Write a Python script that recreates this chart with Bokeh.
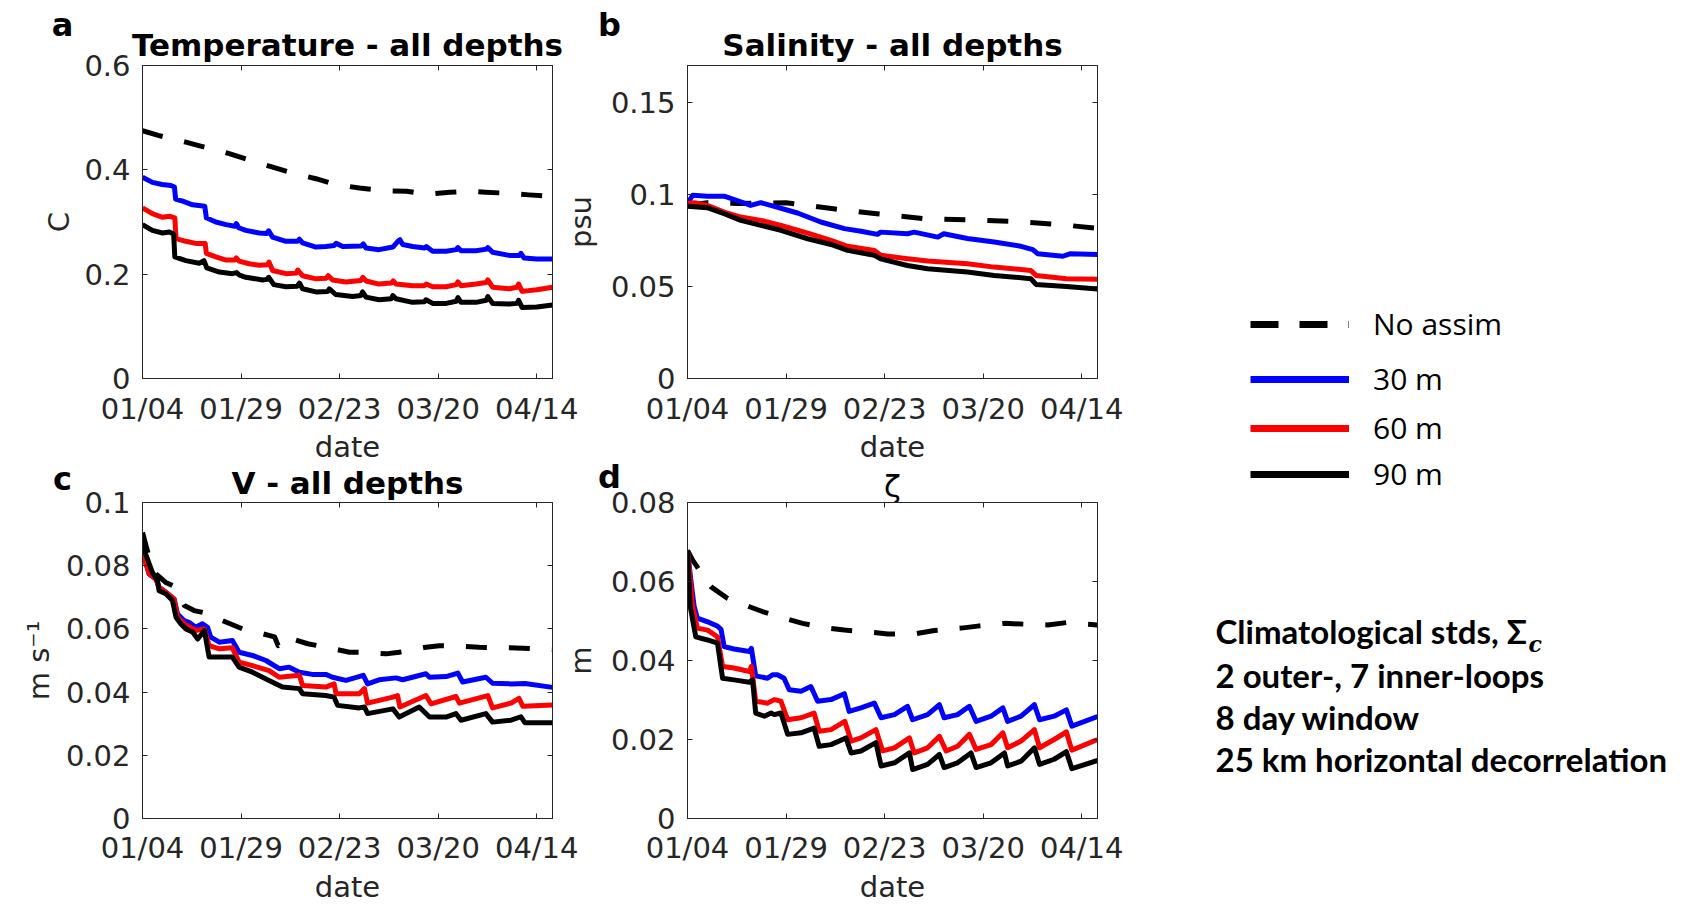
from bokeh.plotting import figure
from bokeh.models import Range1d, FixedTicker, LinearAxis, Label, Legend, LegendItem
from bokeh.layouts import row, column
from bokeh.embed import file_html
from bokeh.resources import INLINE

# ------------------------------------------------------------------ data
DATE_TICKS = [0, 25, 50, 75, 100]          # days after 01/04
DATE_LABELS = ["01/04", "01/29", "02/23", "03/20", "04/14"]
DAY_END = 104

SERIES_NAMES = ["No assim", "30 m", "60 m", "90 m"]

# (a) Temperature - all depths  [C]
TEMP_YTICKS = [0, 0.2, 0.4, 0.6]
TEMP_YLABELS = ["0", "0.2", "0.4", "0.6"]
temp_noassim = [(0, 0.475), (4, 0.466), (11, 0.453), (16, 0.443), (22, 0.431), (27, 0.419),
                (33, 0.405), (38, 0.394), (44, 0.383), (49, 0.372), (55, 0.365), (61, 0.360),
                (67, 0.359), (72, 0.353), (78, 0.357), (83, 0.359), (87, 0.357), (93, 0.355),
                (98, 0.352), (104, 0.349)]
temp_30m = [(0, 0.386), (2.5, 0.376), (5, 0.372), (7.2, 0.370), (8.1, 0.367), (8.4, 0.344),
            (10.2, 0.340), (12.7, 0.333), (15.8, 0.330), (16.2, 0.308), (18.6, 0.300), (21.2, 0.295),
            (23.4, 0.292), (23.8, 0.297), (24.4, 0.289), (26.2, 0.284), (29.6, 0.279), (31.5, 0.278),
            (32.0, 0.283), (33, 0.271), (36.4, 0.263), (39.3, 0.263), (39.8, 0.267), (40.6, 0.260),
            (44, 0.252), (46.5, 0.253), (48.6, 0.255), (49.1, 0.259), (50.8, 0.253), (55.5, 0.254),
            (56, 0.258), (56.7, 0.250), (60, 0.247), (63.5, 0.252), (64.9, 0.264), (65.3, 0.266),
            (66, 0.257), (68.5, 0.253), (71.6, 0.250), (72, 0.253), (73.6, 0.244), (77, 0.244),
            (79.6, 0.247), (80, 0.251), (80.8, 0.245), (84.6, 0.245), (87.3, 0.248), (87.6, 0.251),
            (88.8, 0.242), (93, 0.236), (95.6, 0.236), (96.0, 0.240), (96.8, 0.231), (100, 0.229),
            (104, 0.229)]
temp_60m = [(0, 0.327), (2.5, 0.316), (5.1, 0.309), (6.8, 0.311), (8.2, 0.308), (8.5, 0.268),
            (11, 0.263), (13.5, 0.259), (15.9, 0.259), (16.2, 0.240), (18.6, 0.233), (21.2, 0.227),
            (23.4, 0.227), (23.8, 0.231), (24.5, 0.225), (27, 0.220), (29.6, 0.217), (31.7, 0.218),
            (32.1, 0.223), (33, 0.207), (36.4, 0.201), (39.0, 0.202), (39.4, 0.208), (40.6, 0.197),
            (44, 0.191), (46.6, 0.192), (47.1, 0.197), (48.2, 0.189), (51.6, 0.185), (55.4, 0.188),
            (55.9, 0.194), (56.7, 0.187), (60, 0.181), (63.1, 0.183), (63.6, 0.187), (64.3, 0.181),
            (68.5, 0.178), (71.5, 0.178), (72, 0.181), (73.6, 0.176), (77, 0.176), (79.6, 0.180),
            (80, 0.185), (80.8, 0.178), (84.6, 0.181), (87.2, 0.184), (87.6, 0.189), (88.8, 0.175),
            (93, 0.172), (95.0, 0.175), (95.4, 0.181), (96.3, 0.167), (100, 0.170), (104, 0.175)]
temp_90m = [(0, 0.295), (2.5, 0.284), (5.1, 0.279), (6.8, 0.281), (7.9, 0.277), (8.2, 0.233),
            (11, 0.226), (14.4, 0.221), (15.6, 0.226), (16.3, 0.212), (19.5, 0.204), (22.8, 0.201),
            (23.9, 0.203), (24.6, 0.198), (26.2, 0.194), (30.5, 0.189), (31.6, 0.190), (32, 0.194),
            (33.3, 0.180), (36.4, 0.176), (39.3, 0.177), (39.8, 0.183), (40.6, 0.172), (44, 0.166),
            (47, 0.167), (47.4, 0.172), (49, 0.161), (53.3, 0.157), (55.4, 0.159), (55.8, 0.166),
            (56.7, 0.156), (60, 0.151), (63.1, 0.153), (63.5, 0.159), (64.3, 0.153), (68.5, 0.146),
            (71.5, 0.147), (71.9, 0.151), (73.6, 0.144), (77, 0.144), (79.6, 0.148), (80, 0.155),
            (80.8, 0.146), (84.6, 0.146), (87.2, 0.150), (87.6, 0.157), (88.8, 0.144), (93, 0.143),
            (95.0, 0.144), (95.4, 0.150), (96.3, 0.136), (100, 0.137), (104, 0.141)]

# (b) Salinity - all depths  [psu]
SALT_YTICKS = [0, 0.05, 0.1, 0.15]
SALT_YLABELS = ["0", "0.05", "0.1", "0.15"]
salt_noassim = [(0, 0.094), (5, 0.0955), (13, 0.095), (25, 0.0955), (37, 0.0922), (48, 0.0895),
                (60, 0.0868), (71, 0.0862), (82.5, 0.0853), (94, 0.0837), (104, 0.0816)]
salt_30m = [(0, 0.095), (1.3, 0.0995), (5, 0.099), (9.3, 0.099), (13.5, 0.096), (16, 0.094),
            (18.6, 0.0955), (22, 0.0935), (27.9, 0.0899), (33.8, 0.085), (39.8, 0.0814), (44, 0.080),
            (48.2, 0.0783), (49, 0.0795), (55.8, 0.0786), (57.5, 0.0795), (63.5, 0.0768), (65, 0.0786),
            (71, 0.076), (77.8, 0.0741), (84.6, 0.0718), (87.6, 0.070), (88.8, 0.0678), (95.2, 0.0664),
            (97, 0.0677), (104, 0.0673)]
salt_60m = [(0, 0.095), (1.7, 0.0955), (5, 0.094), (9.3, 0.0904), (13.5, 0.0877), (18.6, 0.0859),
            (23.7, 0.0832), (30.5, 0.079), (36.4, 0.075), (40.6, 0.0718), (47.4, 0.0696), (49, 0.0669),
            (55.8, 0.065), (60.9, 0.0638), (71, 0.0623), (77.8, 0.0605), (87.1, 0.0587), (88.4, 0.056),
            (96.1, 0.0542), (104, 0.0539)]
salt_90m = [(0, 0.0935), (5, 0.0928), (9.3, 0.0895), (13.5, 0.0859), (18.6, 0.0832), (23.7, 0.0805),
            (30.5, 0.0759), (36.4, 0.0728), (40.6, 0.0696), (47.4, 0.0669), (49, 0.065), (55.8, 0.0614),
            (60.9, 0.0596), (71, 0.0578), (77.8, 0.056), (87.1, 0.0542), (88.4, 0.0511), (96.1, 0.050),
            (104, 0.0486)]

# (c) V - all depths  [m s-1]
VEL_YTICKS = [0, 0.02, 0.04, 0.06, 0.08, 0.1]
VEL_YLABELS = ["0", "0.02", "0.04", "0.06", "0.08", "0.1"]
vel_noassim = [(0, 0.0905), (1.7, 0.0826), (3.4, 0.0774), (5.9, 0.0747), (7.6, 0.0737), (10.6, 0.0674),
               (13.1, 0.0658), (17.3, 0.0647), (20.3, 0.0626), (25.4, 0.060), (28.8, 0.059), (33.5, 0.0575),
               (34.4, 0.0547), (36.4, 0.0574), (41.9, 0.0553), (46.5, 0.0542), (52.5, 0.0526), (55.8, 0.0526),
               (61.8, 0.0521), (65.1, 0.0526), (71.9, 0.0542), (75.3, 0.0547), (82, 0.0544), (85.4, 0.0542),
               (93, 0.054), (104, 0.0535)]
vel_30m = [(0, 0.089), (0.4, 0.0826), (1.7, 0.0774), (3.4, 0.0758), (4.2, 0.0732), (5.9, 0.0716),
           (8, 0.0695), (8.9, 0.0647), (10.6, 0.0626), (11.8, 0.0621), (13.5, 0.0605), (15.2, 0.0616),
           (16.5, 0.0605), (17.3, 0.0574), (19.5, 0.0558), (22.8, 0.0563), (24.5, 0.0526), (27.9, 0.0516),
           (31.3, 0.050), (34.7, 0.0474), (37.2, 0.0479), (39.8, 0.0463), (43.1, 0.0456), (46.5, 0.0456),
           (48.2, 0.0447), (51.6, 0.0437), (56, 0.0453), (57.1, 0.0426), (60, 0.0439), (64.3, 0.0445),
           (66, 0.0439), (71.9, 0.0458), (72.8, 0.0447), (77, 0.0449), (80, 0.046), (81.2, 0.0432),
           (87.1, 0.0447), (88.8, 0.0428), (93.5, 0.0426), (97, 0.0427), (104, 0.0415)]
vel_60m = [(0, 0.089), (0.4, 0.0826), (1.7, 0.0774), (3.4, 0.0758), (4.2, 0.0732), (5.9, 0.0716),
           (8, 0.0695), (8.9, 0.0637), (10.6, 0.0616), (13.5, 0.0595), (15.7, 0.060), (16.9, 0.0547),
           (19.5, 0.0537), (22.8, 0.054), (24.5, 0.0495), (27.9, 0.0484), (32.1, 0.0468), (34.7, 0.0447),
           (39.8, 0.0453), (40.6, 0.0421), (46.5, 0.0416), (48.6, 0.0426), (49.1, 0.0395), (55, 0.0395),
           (56.3, 0.0411), (57.1, 0.0365), (63.5, 0.0384), (64.7, 0.0389), (65.3, 0.0353), (71.9, 0.0389),
           (73.2, 0.0363), (79.5, 0.0386), (80.4, 0.0365), (87.6, 0.0389), (88.8, 0.035), (93.5, 0.0365),
           (95.5, 0.038), (96.5, 0.0355), (104, 0.0359)]
vel_90m = [(0, 0.090), (0.8, 0.0837), (2.5, 0.0779), (3.8, 0.0753), (4.2, 0.0721), (5.9, 0.0711),
           (7.6, 0.069), (8.5, 0.0637), (9.7, 0.0616), (11, 0.060), (12.7, 0.059), (14, 0.0568),
           (15.7, 0.0595), (16.9, 0.0511), (19.5, 0.0511), (22.8, 0.0511), (24.5, 0.0479), (27.9, 0.0463),
           (32.1, 0.0437), (35.5, 0.0416), (39.8, 0.0411), (40.6, 0.0395), (46.5, 0.0389), (48.6, 0.0384),
           (49.5, 0.0358), (55, 0.035), (56.3, 0.0353), (57.1, 0.0332), (63.5, 0.0347), (65.1, 0.0321),
           (70.2, 0.0353), (72.8, 0.0321), (77, 0.0321), (79.5, 0.0332), (80.8, 0.0311), (87.1, 0.0332),
           (88.8, 0.0305), (93.5, 0.0311), (96, 0.0322), (97, 0.0303), (104, 0.0303)]

# (d) zeta  [m]
SSH_YTICKS = [0, 0.02, 0.04, 0.06, 0.08]
SSH_YLABELS = ["0", "0.02", "0.04", "0.06", "0.08"]
ssh_noassim = [(0, 0.0679), (1.3, 0.0654), (5.9, 0.0587), (10.2, 0.0557), (15.7, 0.0536), (19, 0.0524),
               (24.5, 0.0507), (29.2, 0.0494), (35.5, 0.0482), (39.8, 0.0477), (47.4, 0.0471), (50.8, 0.0467),
               (57.5, 0.0467), (62.6, 0.0476), (69.4, 0.0482), (73.6, 0.0487), (80.4, 0.0494), (85.4, 0.0492),
               (91.4, 0.049), (96.1, 0.0496), (104, 0.049)]
ssh_30m = [(0, 0.0679), (0.85, 0.0603), (1.7, 0.0536), (2.5, 0.0507), (5.1, 0.0498), (7.6, 0.0487),
           (8.5, 0.0479), (9.3, 0.0435), (11.8, 0.0429), (15.7, 0.0423), (16.2, 0.0431), (17.3, 0.0361),
           (20.3, 0.0355), (21.6, 0.0364), (22.8, 0.0364), (24.5, 0.0355), (25.8, 0.0326), (28.8, 0.0322),
           (31.3, 0.0334), (33, 0.0297), (36.4, 0.0301), (39.8, 0.0316), (41, 0.0271), (44, 0.028),
           (47.4, 0.0292), (49.1, 0.0255), (52.5, 0.0263), (55.8, 0.0284), (57.1, 0.025), (60.9, 0.0263),
           (63.9, 0.0288), (65.1, 0.0255), (68.5, 0.0263), (71.5, 0.0284), (73.2, 0.0246), (77, 0.0259),
           (80, 0.028), (81.2, 0.0246), (84.6, 0.0259), (88, 0.0288), (89.3, 0.025), (93, 0.0259),
           (96.1, 0.0275), (97.5, 0.0234), (104, 0.0258)]
ssh_60m = [(0, 0.0679), (1.3, 0.0536), (2.5, 0.0482), (5.1, 0.0477), (7.6, 0.046), (8.9, 0.0385),
           (11.8, 0.0381), (15.7, 0.0372), (16.2, 0.0385), (17.3, 0.0297), (20.3, 0.0292), (22, 0.0301),
           (23.7, 0.0297), (25.4, 0.025), (28.8, 0.0255), (32.1, 0.0267), (33.4, 0.0221), (36.4, 0.0225),
           (39.9, 0.0246), (41.5, 0.0196), (44, 0.0204), (47.8, 0.0225), (49.5, 0.0171), (52.5, 0.0179),
           (56.3, 0.0204), (57.5, 0.0166), (60.9, 0.0179), (63.9, 0.0208), (65.6, 0.0171), (68.5, 0.0183),
           (71.5, 0.0213), (73.2, 0.0175), (77, 0.0187), (80, 0.0217), (81.2, 0.0179), (84.6, 0.0196),
           (88, 0.0225), (89.3, 0.0179), (93, 0.020), (96.1, 0.0219), (97.5, 0.0173), (104, 0.020)]
ssh_90m = [(0, 0.0679), (0.7, 0.0536), (2.1, 0.046), (5.1, 0.0452), (7.6, 0.0444), (8.9, 0.0355),
           (11.8, 0.0351), (15.7, 0.0345), (16.5, 0.0351), (17.3, 0.0267), (19.5, 0.0259), (21.2, 0.0267),
           (22, 0.0263), (23.7, 0.0267), (25.4, 0.0213), (28.8, 0.0217), (32.1, 0.0229), (33.4, 0.0183),
           (36.4, 0.0187), (40.2, 0.0204), (41.5, 0.0166), (44, 0.0171), (47.8, 0.0192), (49.1, 0.0133),
           (52.5, 0.0141), (56.3, 0.0166), (57.1, 0.0124), (60.9, 0.0137), (63.9, 0.0162), (65.1, 0.0129),
           (68.5, 0.0141), (71.9, 0.0166), (73.2, 0.0129), (77, 0.0141), (80.4, 0.0166), (81.2, 0.0133),
           (84.6, 0.0145), (88, 0.0179), (89.3, 0.0137), (93, 0.015), (96.1, 0.0169), (97.5, 0.0126),
           (104, 0.0147)]

PANEL_TITLES = ["Temperature - all depths", "Salinity - all depths", "V - all depths", "\u03b6"]
PANEL_LETTERS = ["a", "b", "c", "d"]
X_LABEL = "date"
NOTE_LINES = ["Climatological stds, \u03a3", "2 outer-, 7 inner-loops", "8 day window",
              "25 km horizontal decorrelation"]

# ------------------------------------------------------------------ style / geometry
AX = "#262626"
FONT = "DejaVu Sans"
COLORS = ["#000000", "#0000ff", "#ff0000", "#000000"]
DASHES = ["21 22", "solid", "solid", "solid"]
PAGE_W, PAGE_H = 1689, 905
FW = 410                       # frame width of every panel
LEFT_A, RIGHT_A = 142, 40      # left-column figure borders
LEFT_B, RIGHT_B = 135, 35      # right-column figure borders
OVERLAP = 40                   # right column slides under the left one's right border
ROW_W = LEFT_A + FW + RIGHT_A + LEFT_B + FW + RIGHT_B - OVERLAP
H1 = 65                        # header above row 1
T1, FH1, B1 = 22, 313, 90      # row 1: top border (overlaps header), frame, bottom
H2, OV2 = 52, 18               # header above row 2 (transparent) and its overlap with row 1
T2, FH2, B2 = 20, 316, 50      # row 2
H3 = PAGE_H - (H1 + FH1 + B1 - OV2 + H2 + FH2 + B2) - 2   # footer with the bottom x-labels


def make_panel(series, y_end, y_ticks, y_labels, y_label, fh, top, bottom, left, right,
               x_std, xl_std, yl_std, x_label, margin=None):
    kw = {}
    if margin is not None:
        kw["margin"] = margin
    p = figure(frame_width=FW, frame_height=fh, x_range=Range1d(0, DAY_END),
               y_range=Range1d(0, y_end), x_axis_type=None, y_axis_type=None,
               output_backend="svg", toolbar_location=None,
               min_border_left=left, min_border_right=right,
               min_border_top=top, min_border_bottom=bottom, **kw)
    p.outline_line_color = AX
    p.background_fill_color = "white"
    p.border_fill_color = "white"
    p.border_fill_alpha = 0

    xb = LinearAxis(ticker=FixedTicker(ticks=DATE_TICKS, minor_ticks=[]),
                    major_label_overrides=dict(zip(DATE_TICKS, DATE_LABELS)), axis_label=x_label)
    yl = LinearAxis(ticker=FixedTicker(ticks=y_ticks, minor_ticks=[]),
                    major_label_overrides=dict(zip(y_ticks, y_labels)), axis_label=y_label)
    xt = LinearAxis(ticker=FixedTicker(ticks=DATE_TICKS, minor_ticks=[]),
                    major_label_overrides={t: "" for t in DATE_TICKS})
    yr = LinearAxis(ticker=FixedTicker(ticks=y_ticks, minor_ticks=[]),
                    major_label_overrides={t: "" for t in y_ticks})
    for ax in (xb, yl, xt, yr):
        ax.major_tick_in = 5
        ax.major_tick_out = 0
        ax.minor_tick_line_color = None
        ax.axis_line_color = AX
        ax.major_tick_line_color = AX
        ax.major_label_text_font = FONT
        ax.major_label_text_font_size = "29px"
        ax.major_label_text_color = AX
        ax.major_label_text_line_height = 1.0
        ax.axis_label_text_font = FONT
        ax.axis_label_text_font_size = "29px"
        ax.axis_label_text_font_style = "normal"
        ax.axis_label_text_color = AX
        ax.axis_label_text_line_height = 1.0
    for ax in (xt, yr):
        ax.major_label_text_font_size = "0px"
        ax.major_label_standoff = 0
    xb.major_label_standoff = x_std
    xb.axis_label_standoff = xl_std
    yl.major_label_standoff = 12
    yl.axis_label_standoff = yl_std
    p.add_layout(xb, "below")
    p.add_layout(yl, "left")
    p.add_layout(xt, "above")
    p.add_layout(yr, "right")

    for pts, color, dash in zip(series, COLORS, DASHES):
        p.line([d for d, v in pts], [v for d, v in pts], line_color=color, line_width=5,
               line_dash=dash, line_join="round")
    return p


def text_fig(w, h, margin=None, transparent=False):
    kw = {}
    if margin is not None:
        kw["margin"] = margin
    f = figure(width=w, height=h, x_range=Range1d(0, w), y_range=Range1d(0, h),
               x_axis_type=None, y_axis_type=None, output_backend="svg",
               toolbar_location=None, min_border=0, outline_line_color=None, **kw)
    f.background_fill_color = "white"
    f.border_fill_color = "white"
    if transparent:
        f.background_fill_alpha = 0
        f.border_fill_alpha = 0
    f.grid.visible = False
    return f


def add_text(f, x, y, text, size, style="normal", font=FONT, color="black", align="center",
             lh=1.2):
    f.add_layout(Label(x=x, y=y, text=text, text_align=align, text_baseline="middle",
                       text_font=font, text_font_size=size, text_font_style=style,
                       text_color=color, text_line_height=lh))


pa = make_panel([temp_noassim, temp_30m, temp_60m, temp_90m], 0.6, TEMP_YTICKS, TEMP_YLABELS, "C",
                FH1, T1, B1, LEFT_A, RIGHT_A, 13, 1, 5, X_LABEL)
pb = make_panel([salt_noassim, salt_30m, salt_60m, salt_90m], 0.17, SALT_YTICKS, SALT_YLABELS, "psu",
                FH1, T1, B1, LEFT_B, RIGHT_B, 13, 1, 10, X_LABEL, margin=(0, 0, 0, -OVERLAP))
pc = make_panel([vel_noassim, vel_30m, vel_60m, vel_90m], 0.1, VEL_YTICKS, VEL_YLABELS,
                "m s\u207b\u00b9", FH2, T2, B2, LEFT_A, RIGHT_A, 12, 0, 7, None)
pd_ = make_panel([ssh_noassim, ssh_30m, ssh_60m, ssh_90m], 0.08, SSH_YTICKS, SSH_YLABELS, "m",
                 FH2, T2, B2, LEFT_B, RIGHT_B, 12, 0, 10, None, margin=(0, 0, 0, -OVERLAP))

# ------------------------------------------------------------------ titles, letters, bottom labels
frame_cx = [LEFT_A + FW / 2, LEFT_A + FW + RIGHT_A - OVERLAP + LEFT_B + FW / 2]
letter_x = [62, 609]

head1 = text_fig(ROW_W, H1)
for i in range(2):
    add_text(head1, frame_cx[i], H1 - 44, PANEL_TITLES[i], "31px", "bold")
    add_text(head1, letter_x[i], H1 - 24, PANEL_LETTERS[i], "32px", "bold")

top2 = H1 + FH1 + B1 - OV2                      # page y of the second header
head2 = text_fig(ROW_W, H2, margin=(-OV2, 0, 0, 0), transparent=True)
add_text(head2, frame_cx[0], H2 - (482 - top2), PANEL_TITLES[2], "31px", "bold")
add_text(head2, frame_cx[1], H2 - (485 - top2), PANEL_TITLES[3], "31px", "normal")
add_text(head2, letter_x[0], H2 - (478 - top2), PANEL_LETTERS[2], "32px", "bold")
add_text(head2, letter_x[1], H2 - (476 - top2), PANEL_LETTERS[3], "32px", "bold")

foot_top = top2 + H2 + FH2 + B2
foot = text_fig(ROW_W, H3)
for i in range(2):
    add_text(foot, frame_cx[i], H3 - (886 - foot_top), X_LABEL, "29px", "normal", color=AX, lh=1.0)

row1 = row(pa, pb, margin=(-T1, 0, 0, 0))
row2 = row(pc, pd_, margin=(-T2, 0, 0, 0))

# ------------------------------------------------------------------ legend / notes panel
LW = PAGE_W - ROW_W - 1
LH = PAGE_H - 2
leg = text_fig(LW, LH)
legend_rows = [324, 379, 428, 474]            # page y of the legend rows
for name, color, dash, yc in zip(SERIES_NAMES, COLORS, ["28 21", "solid", "solid", "solid"],
                                 legend_rows):
    r = leg.line([float("nan")], [float("nan")], line_color=color, line_width=7, line_dash=dash)
    lg = Legend(items=[LegendItem(label=name, renderers=[r])],
                location=(1250 - ROW_W, LH - (yc + 20)), orientation="vertical",
                glyph_width=99, glyph_height=40, label_height=40, label_standoff=24,
                spacing=0, padding=0, margin=0, border_line_color=None,
                background_fill_alpha=0, label_text_font="Open Sans",
                label_text_font_size="30px", label_text_color="black")
    leg.add_layout(lg)

note_rows = [630, 674, 716, 758]              # page y of the note lines
for txt, yc in zip(NOTE_LINES, note_rows):
    add_text(leg, 1215 - ROW_W, LH - yc, txt, "33px", "bold", font="Lato", align="left")
add_text(leg, 1528 - ROW_W, LH - 643, "c", "22px", "bold italic", font="DejaVu Serif", align="left")

layout = row(column(head1, row1, head2, row2, foot), leg)
open("out.html", "w").write(file_html(layout, INLINE))
